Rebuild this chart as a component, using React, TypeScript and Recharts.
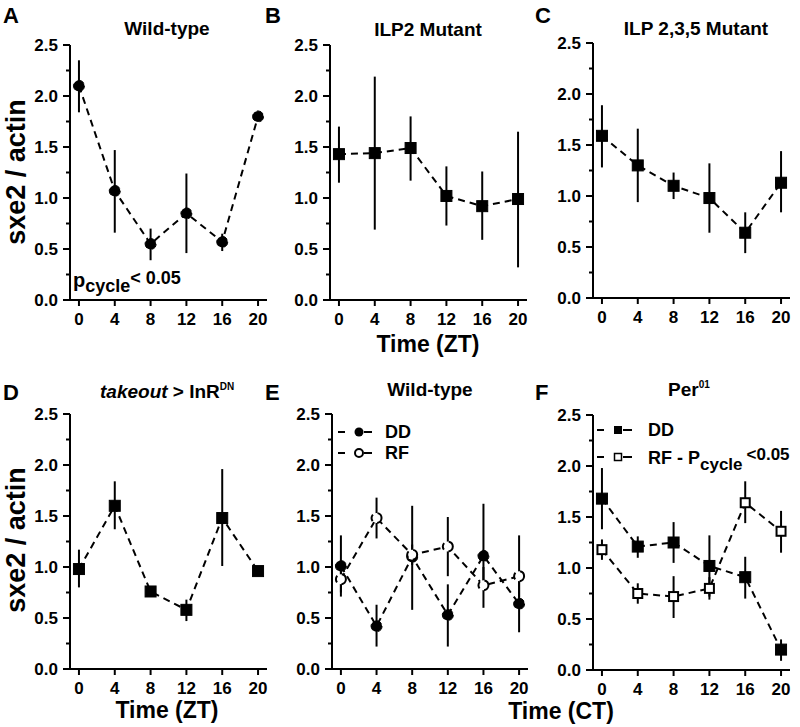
import { ErrorBar, Line, LineChart, XAxis, YAxis } from 'recharts'

const FONT = '"Liberation Sans", Arial, sans-serif'

const times = [0, 4, 8, 12, 16, 20]
const yTicks = [0, 0.25, 0.5, 0.75, 1, 1.25, 1.5, 1.75, 2, 2.25, 2.5]

// A: wild-type (ZT)
const wtZtMean = [2.1, 1.07, 0.55, 0.85, 0.57, 1.8]
const wtZtHigh = [2.35, 1.47, 0.7, 1.24, 0.65, 1.8]
const wtZtLow = [1.84, 0.66, 0.39, 0.46, 0.48, 1.8]

// B: ILP2 mutant
const ilp2Mean = [1.43, 1.44, 1.49, 1.02, 0.92, 0.99]
const ilp2High = [1.7, 2.19, 1.8, 1.31, 1.26, 1.65]
const ilp2Low = [1.15, 0.69, 1.17, 0.73, 0.59, 0.32]

// C: ILP 2,3,5 mutant
const ilp235Mean = [1.59, 1.3, 1.1, 0.98, 0.64, 1.13]
const ilp235High = [1.89, 1.66, 1.23, 1.32, 0.84, 1.44]
const ilp235Low = [1.28, 0.94, 0.97, 0.64, 0.44, 0.84]

// D: takeout > InR DN
const toMean = [0.98, 1.6, 0.76, 0.58, 1.48, 0.96]
const toHigh = [1.17, 1.84, 0.79, 0.68, 1.96, 0.98]
const toLow = [0.8, 1.37, 0.73, 0.47, 1.01, 0.94]

// E: wild-type (CT)
const wtDdMean = [1.01, 0.42, 1.1, 0.53, 1.11, 0.64]
const wtDdHigh = [1.31, 0.63, 1.6, 0.83, 1.62, 0.92]
const wtDdLow = [0.71, 0.22, 0.58, 0.22, 0.8, 0.36]
const wtRfMean = [0.88, 1.48, 1.12, 1.2, 0.82, 0.91]
const wtRfHigh = [1.0, 1.68, 1.22, 1.49, 1.0, 1.31]
const wtRfLow = [0.75, 1.28, 1.02, 0.91, 0.6, 0.7]

// F: per01
const perDdMean = [1.68, 1.21, 1.25, 1.02, 0.91, 0.2]
const perDdHigh = [1.98, 1.31, 1.45, 1.32, 1.11, 0.3]
const perDdLow = [1.38, 1.1, 1.05, 0.72, 0.7, 0.09]
const perRfMean = [1.18, 0.75, 0.72, 0.8, 1.64, 1.36]
const perRfHigh = [1.28, 0.85, 0.92, 0.91, 1.85, 1.56]
const perRfLow = [1.08, 0.65, 0.51, 0.69, 1.44, 1.15]

type Series = {
  key: string
  mean: number[]
  high: number[]
  low: number[]
  shape: 'circle' | 'square'
  filled: boolean
}

function YTick(props: any) {
  const { x, y, payload } = props
  const v = payload.value as number
  const major = Math.abs(v * 2 - Math.round(v * 2)) < 1e-6
  return (
    <g>
      <line x1={x - (major ? 7 : 4)} x2={x} y1={y} y2={y} stroke="#000" strokeWidth={2} />
      {major && (
        <text x={x - 12} y={y} dy="0.36em" textAnchor="end" fill="#000" fontSize={17} fontWeight={700} fontFamily={FONT}>
          {v.toFixed(1)}
        </text>
      )}
    </g>
  )
}

function makeDot(s: Series) {
  const fill = s.filled ? '#000' : '#fff'
  if (s.shape === 'circle') {
    return { r: s.filled ? 5.5 : 5, fill, stroke: '#000', strokeWidth: s.filled ? 1 : 2 }
  }
  return (p: any) => {
    const size = s.filled ? 11 : 9
    return (
      <rect
        key={`${s.key}-${p.index}`}
        x={p.cx - size / 2}
        y={p.cy - size / 2}
        width={size}
        height={size}
        fill={fill}
        stroke="#000"
        strokeWidth={s.filled ? 1 : 2}
      />
    )
  }
}

type PanelProps = { left: number; top: number; plotW: number; plotH: number; series: Series[] }

function Panel({ left, top, plotW, plotH, series }: PanelProps) {
  const data = times.map((t, i) => {
    const row: Record<string, any> = { t }
    series.forEach((s) => {
      row[s.key] = s.mean[i]
      row[s.key + 'Err'] = [s.mean[i] - s.low[i], s.high[i] - s.mean[i]]
    })
    return row
  })
  const axisStyle = { stroke: '#000', strokeWidth: 2 }
  return (
    <div style={{ position: 'absolute', left: left - 50, top: top - 20 }}>
      <LineChart width={plotW + 70} height={plotH + 50} data={data} margin={{ top: 20, right: 20, bottom: 0, left: 0 }}>
        <XAxis
          type="number"
          dataKey="t"
          domain={[-1, 21]}
          ticks={times}
          interval={0}
          height={30}
          axisLine={axisStyle}
          tickLine={axisStyle}
          tickSize={6}
          tickMargin={7}
          tick={{ fill: '#000', fontSize: 17, fontWeight: 700, fontFamily: FONT }}
        />
        <YAxis
          type="number"
          domain={[0, 2.5]}
          ticks={yTicks}
          interval={0}
          width={50}
          axisLine={axisStyle}
          tickLine={false}
          tickSize={0}
          tickMargin={0}
          tick={(p: any) => <YTick {...p} />}
        />
        {series.map((s) => (
          <Line
            key={s.key}
            dataKey={s.key}
            type="linear"
            stroke="#000"
            strokeWidth={2}
            strokeDasharray="7 5"
            dot={makeDot(s) as any}
            activeDot={false}
            isAnimationActive={false}
          >
            <ErrorBar dataKey={s.key + 'Err'} width={0} stroke="#000" strokeWidth={2} direction="y" />
          </Line>
        ))}
      </LineChart>
    </div>
  )
}

const txt = { fill: '#000', fontWeight: 700, fontFamily: FONT } as const

export default function App() {
  return (
    <div style={{ position: 'absolute', left: 0, top: 0, width: 800, height: 727, background: '#fff' }}>
      <Panel left={70} top={45} plotW={197} plotH={255}
        series={[{ key: 'wt', mean: wtZtMean, high: wtZtHigh, low: wtZtLow, shape: 'circle', filled: true }]} />
      <Panel left={330} top={45} plotW={197} plotH={255}
        series={[{ key: 'ilp2', mean: ilp2Mean, high: ilp2High, low: ilp2Low, shape: 'square', filled: true }]} />
      <Panel left={593} top={43} plotW={197} plotH={255}
        series={[{ key: 'ilp235', mean: ilp235Mean, high: ilp235High, low: ilp235Low, shape: 'square', filled: true }]} />
      <Panel left={70} top={414} plotW={197} plotH={255}
        series={[{ key: 'to', mean: toMean, high: toHigh, low: toLow, shape: 'square', filled: true }]} />
      <Panel left={332} top={414} plotW={196} plotH={255}
        series={[
          { key: 'dd', mean: wtDdMean, high: wtDdHigh, low: wtDdLow, shape: 'circle', filled: true },
          { key: 'rf', mean: wtRfMean, high: wtRfHigh, low: wtRfLow, shape: 'circle', filled: false },
        ]} />
      <Panel left={593} top={415} plotW={197} plotH={255}
        series={[
          { key: 'dd', mean: perDdMean, high: perDdHigh, low: perDdLow, shape: 'square', filled: true },
          { key: 'rf', mean: perRfMean, high: perRfHigh, low: perRfLow, shape: 'square', filled: false },
        ]} />

      <svg width={800} height={727} style={{ position: 'absolute', left: 0, top: 0, pointerEvents: 'none' }}>
        {/* panel letters */}
        <text x={3} y={23} fontSize={22} {...txt}>A</text>
        <text x={265} y={23} fontSize={22} {...txt}>B</text>
        <text x={535} y={23} fontSize={22} {...txt}>C</text>
        <text x={3} y={400} fontSize={22} {...txt}>D</text>
        <text x={265} y={400} fontSize={22} {...txt}>E</text>
        <text x={535} y={400} fontSize={22} {...txt}>F</text>

        {/* titles */}
        <text x={167} y={35} fontSize={19} textAnchor="middle" {...txt}>Wild-type</text>
        <text x={428} y={36} fontSize={19} textAnchor="middle" {...txt}>ILP2 Mutant</text>
        <text x={696} y={35} fontSize={19} textAnchor="middle" {...txt}>ILP 2,3,5 Mutant</text>
        <text x={100} y={398} fontSize={19} {...txt}>
          <tspan fontStyle="italic">takeout</tspan>
          <tspan> &gt; InR</tspan>
          <tspan fontSize={10} dy={-8}>DN</tspan>
        </text>
        <text x={430} y={396} fontSize={19} textAnchor="middle" {...txt}>Wild-type</text>
        <text x={668} y={396} fontSize={19} {...txt}>
          Per<tspan fontSize={10} dy={-8}>01</tspan>
        </text>

        {/* axis labels */}
        <text x={25} y={172} fontSize={27} textAnchor="middle" transform="rotate(-90 25 172)" {...txt}>sxe2 / actin</text>
        <text x={25} y={540} fontSize={27} textAnchor="middle" transform="rotate(-90 25 540)" {...txt}>sxe2 / actin</text>
        <text x={428} y={352} fontSize={23} textAnchor="middle" {...txt}>Time (ZT)</text>
        <text x={167} y={718} fontSize={23} textAnchor="middle" {...txt}>Time (ZT)</text>
        <text x={561} y={719} fontSize={23} textAnchor="middle" {...txt}>Time (CT)</text>

        {/* p cycle note */}
        <text x={73} y={287} fontSize={20} {...txt}>
          p<tspan fontSize={18} dy={5}>cycle</tspan>
          <tspan fontSize={18} dy={-8}>{'< 0.05'}</tspan>
        </text>

        {/* legend E */}
        <line x1={338} x2={345} y1={432} y2={432} stroke="#000" strokeWidth={2} />
        <circle cx={359} cy={432} r={4.5} fill="#000" />
        <line x1={364} x2={372} y1={432} y2={432} stroke="#000" strokeWidth={2} />
        <text x={385} y={438} fontSize={18} {...txt}>DD</text>
        <line x1={338} x2={345} y1={453} y2={453} stroke="#000" strokeWidth={2} />
        <circle cx={359} cy={453} r={4} fill="#fff" stroke="#000" strokeWidth={2} />
        <line x1={364} x2={372} y1={453} y2={453} stroke="#000" strokeWidth={2} />
        <text x={385} y={459} fontSize={18} {...txt}>RF</text>

        {/* legend F */}
        <line x1={597} x2={604} y1={430} y2={430} stroke="#000" strokeWidth={2} />
        <rect x={614} y={426} width={8} height={8} fill="#000" />
        <line x1={623} x2={632} y1={430} y2={430} stroke="#000" strokeWidth={2} />
        <text x={648} y={436} fontSize={18} {...txt}>DD</text>
        <line x1={597} x2={604} y1={457} y2={457} stroke="#000" strokeWidth={2} />
        <rect x={614.5} y={453.5} width={7} height={7} fill="#fff" stroke="#000" strokeWidth={1.5} />
        <line x1={623} x2={632} y1={457} y2={457} stroke="#000" strokeWidth={2} />
        <text x={648} y={464} fontSize={18} {...txt}>
          RF - P<tspan fontSize={17} dy={6}>cycle</tspan>
          <tspan fontSize={17} dx={4} dy={-10}>{'<0.05'}</tspan>
        </text>
      </svg>
    </div>
  )
}
